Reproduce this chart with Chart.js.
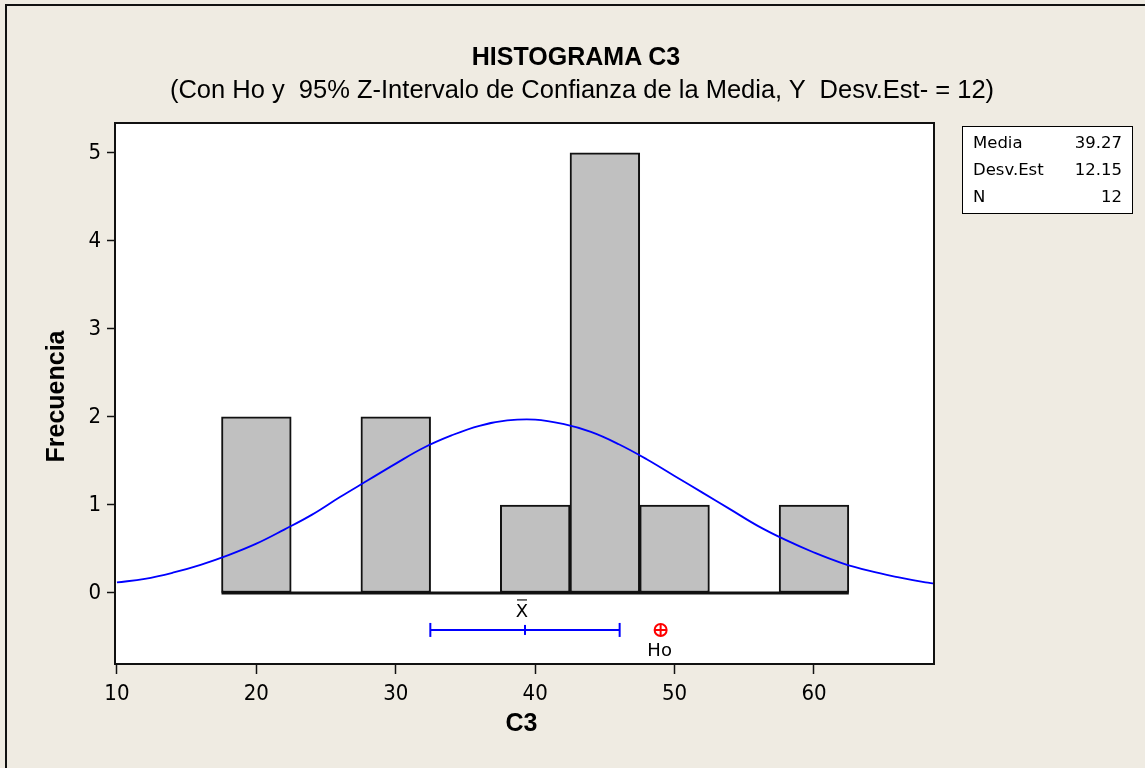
<!DOCTYPE html>
<html>
<head>
<meta charset="utf-8">
<script src="https://cdn.jsdelivr.net/npm/chart.js@4.4.1/dist/chart.umd.min.js"></script>
<style>
  html, body { margin: 0; padding: 0; overflow: hidden; background: #efebe2; }
  .page { position: relative; width: 1145px; height: 768px; background: #efebe2; overflow: hidden; }
  .frame { position: absolute; left: 5px; top: 4px; width: 1300px; height: 900px; border: 2px solid #111; }
  canvas { position: absolute; left: 0; top: 0; }
  .title { position: absolute; left: 0; width: 1152px; text-align: center; font-family: "Liberation Sans", Arial, sans-serif; color: #000; white-space: pre; line-height: 1; }
  .t1 { top: 44px; font-size: 25px; font-weight: bold; }
  .t2 { top: 77px; font-size: 25.5px; left: 6px; }
  .stats { position: absolute; left: 962px; top: 126px; width: 169px; height: 86px; border: 1px solid #000; background: #fff;
           font-family: "DejaVu Sans", sans-serif; font-size: 16.5px; color: #000; }
  .stats .row { position: absolute; left: 10px; right: 10px; height: 20px; }
  .stats .row span { position: absolute; }
  .stats .row .k { left: 0; }
  .stats .row .v { right: 0; }
</style>
</head>
<body>
<div class="page">
  <canvas id="histChart" width="1145" height="768"></canvas>
  <div class="frame"></div>
  <div class="title t1">HISTOGRAMA C3</div>
  <div class="title t2">(Con Ho y  95% Z-Intervalo de Confianza de la Media, Y  Desv.Est- = 12)</div>
  <div class="stats" id="stats"></div>
</div>
<script>
// ===============================
// Data
// ===============================
const binCenters = [20, 25, 30, 35, 40, 45, 50, 55, 60];
const binCounts = [2, 0, 2, 0, 1, 5, 1, 0, 1];
const binEdges = [17.5, 62.5];

// fitted normal curve
const curveX = [10, 12, 14, 16, 18, 20, 22, 24, 26, 28, 30, 32, 34, 36, 38, 40, 42, 44, 46, 48, 50, 52, 54, 56, 58, 60, 62, 64, 66, 68, 68.6];
const curveY = [0.12, 0.16, 0.23, 0.32, 0.43, 0.56, 0.72, 0.89, 1.09, 1.28, 1.47, 1.65, 1.79, 1.90, 1.96, 1.97, 1.92, 1.83, 1.69, 1.52, 1.33, 1.14, 0.95, 0.76, 0.60, 0.46, 0.34, 0.25, 0.18, 0.12, 0.11];

// confidence interval of the mean and Ho
const ciBounds = [32.48, 46.06];
const meanValue = 39.27;
const hoValue = 49;
const ciLevel = -0.42;

const xTicks = [10, 20, 30, 40, 50, 60];
const yTicks = [0, 1, 2, 3, 4, 5];
const xRange = [9.86, 68.61];
const yRange = [-0.807, 5.34];

const statNames = ["Media", "Desv.Est", "N"];
const statValues = ["39.27", "12.15", "12"];

// stats box
const statsBox = document.getElementById("stats");
statNames.forEach((name, i) => {
    statsBox.insertAdjacentHTML("beforeend", `
        <div class="row" style="top:${6 + i * 27}px">
            <span class="k">${name}</span><span class="v">${statValues[i]}</span>
        </div>
    `);
});

const tickFont = { family: "'DejaVu Sans Condensed', 'DejaVu Sans', sans-serif", size: 22 };

// ===============================
// Plot frame + free text
// ===============================
const frameAndLabels = {
    id: "frameAndLabels",
    beforeDatasetsDraw(chart) {
        const { ctx, chartArea: a } = chart;
        ctx.save();
        ctx.fillStyle = "#fff";
        ctx.fillRect(a.left, a.top, a.right - a.left, a.bottom - a.top);
        ctx.restore();
    },
    afterDraw(chart) {
        const { ctx, chartArea: a, scales } = chart;
        ctx.save();
        ctx.strokeStyle = "#111";
        ctx.lineWidth = 2;
        ctx.strokeRect(a.left, a.top, a.right - a.left, a.bottom - a.top);

        ctx.fillStyle = "#000";
        ctx.textAlign = "center";
        ctx.textBaseline = "middle";
        ctx.font = "bold 25px 'Liberation Sans', Arial, sans-serif";
        ctx.fillText("C3", (a.left + a.right) / 2 - 3, 724);

        ctx.save();
        ctx.translate(57, (a.top + a.bottom) / 2 + 3);
        ctx.rotate(-Math.PI / 2);
        ctx.fillText("Frecuencia", 0, 0);
        ctx.restore();

        // X-bar and Ho labels
        const mx = scales.x.getPixelForValue(meanValue) - 4;
        const hx = scales.x.getPixelForValue(hoValue) - 1;
        const cy = scales.y.getPixelForValue(ciLevel);
        ctx.font = "18px 'DejaVu Sans', sans-serif";
        ctx.fillText("X", mx + 1, cy - 18);
        ctx.lineWidth = 1.2;
        ctx.beginPath();
        ctx.moveTo(mx - 4, cy - 30);
        ctx.lineTo(mx + 6, cy - 30);
        ctx.stroke();
        ctx.fillText("Ho", hx, cy + 21);
        ctx.restore();
    }
};

// ===============================
// Histogram Chart
// ===============================
new Chart(document.getElementById("histChart"), {
    type: "bar",
    data: {
        datasets: [
            {
                type: "line",
                label: "Normal",
                data: curveX.map((x, i) => ({ x: x, y: curveY[i] })),
                borderColor: "#0000ff",
                borderWidth: 1.8,
                pointRadius: 0,
                tension: 0.4,
                order: 0
            },
            {
                type: "line",
                label: "Ho cross",
                data: [{ x: hoValue, y: ciLevel }],
                showLine: false,
                pointStyle: "cross",
                pointRadius: 6,
                borderColor: "#ff0000",
                borderWidth: 2,
                order: 1
            },
            {
                type: "line",
                label: "Ho",
                data: [{ x: hoValue, y: ciLevel }],
                showLine: false,
                pointStyle: "circle",
                pointRadius: 6,
                backgroundColor: "rgba(0,0,0,0)",
                borderColor: "#ff0000",
                borderWidth: 2,
                order: 2
            },
            {
                type: "line",
                label: "Media",
                data: [{ x: meanValue, y: ciLevel }],
                showLine: false,
                pointStyle: "line",
                rotation: 90,
                pointRadius: 5,
                borderColor: "#0000ff",
                borderWidth: 2,
                order: 3
            },
            {
                type: "line",
                label: "IC 95%",
                data: ciBounds.map(x => ({ x: x, y: ciLevel })),
                pointStyle: "line",
                rotation: 90,
                pointRadius: 7,
                borderColor: "#0000ff",
                borderWidth: 2,
                order: 4
            },
            {
                type: "bar",
                label: "Frecuencia",
                data: binCenters.map((x, i) => ({ x: x, y: binCounts[i] })),
                backgroundColor: "#c0c0c0",
                borderColor: "#111",
                borderWidth: 2,
                borderSkipped: false,
                barPercentage: 1,
                categoryPercentage: 1,
                order: 5
            },
            {
                type: "line",
                label: "base",
                data: binEdges.map(x => ({ x: x, y: 0 })),
                borderColor: "#111",
                borderWidth: 3,
                pointRadius: 0,
                order: 6
            }
        ]
    },
    options: {
        responsive: false,
        animation: false,
        devicePixelRatio: 1,
        layout: {
            padding: { top: 123, right: 211, left: 0, bottom: 0 }
        },
        plugins: {
            legend: { display: false },
            tooltip: { enabled: false }
        },
        scales: {
            x: {
                type: "linear",
                offset: false,
                min: xRange[0],
                max: xRange[1],
                afterBuildTicks: s => { s.ticks = xTicks.map(v => ({ value: v })); },
                afterFit: s => { s.height = 104; },
                grid: { offset: false, drawOnChartArea: false, drawTicks: true, tickLength: 10, tickColor: "#111", tickWidth: 1.5 },
                border: { display: false },
                ticks: { color: "#000", font: tickFont, padding: 7, maxRotation: 0 }
            },
            y: {
                type: "linear",
                min: yRange[0],
                max: yRange[1],
                afterBuildTicks: s => { s.ticks = yTicks.map(v => ({ value: v })); },
                afterFit: s => { s.width = 115; },
                grid: { drawOnChartArea: false, drawTicks: true, tickLength: 8, tickColor: "#111", tickWidth: 1.5 },
                border: { display: false },
                ticks: { color: "#000", font: tickFont, padding: 6 }
            }
        }
    },
    plugins: [frameAndLabels]
});
</script>
</body>
</html>
